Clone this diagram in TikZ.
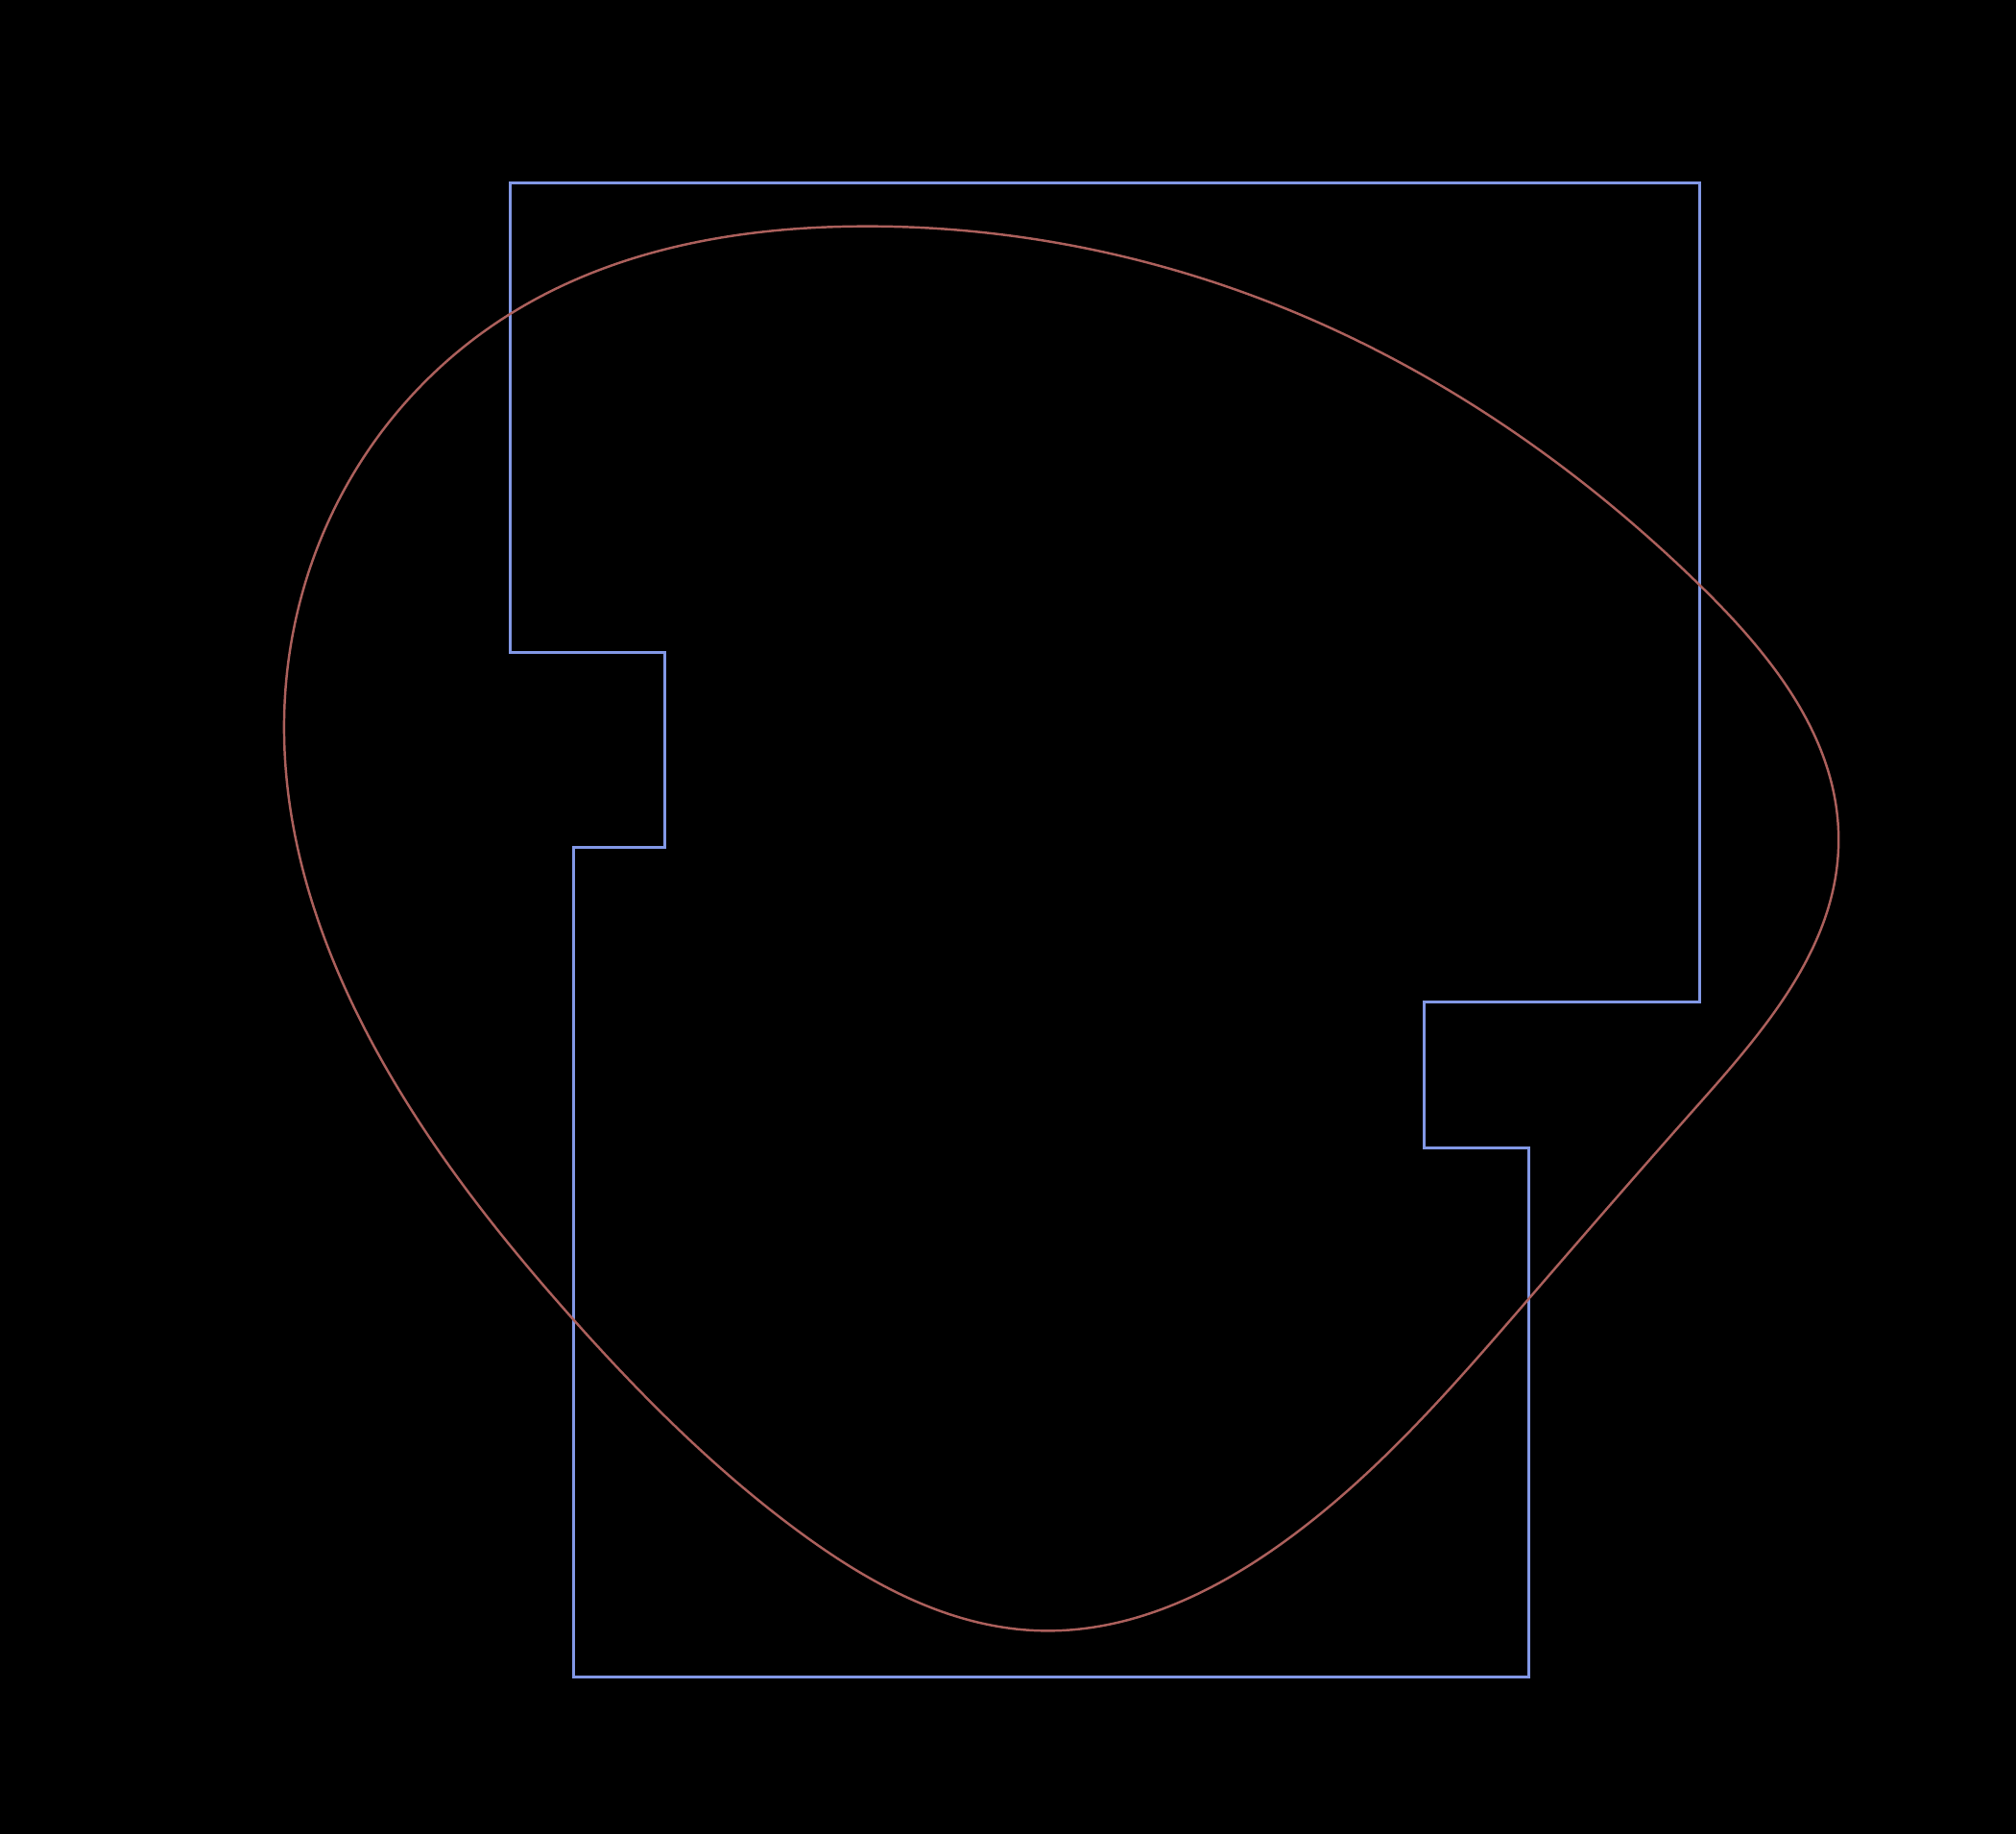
\documentclass[tikz,border=0pt]{standalone}
\usepackage{xcolor}
\usepackage{tikz}
\usetikzlibrary{hobby}
\definecolor{outlineblue}{RGB}{130,152,230}
\definecolor{blobred}{RGB}{172,96,92}

\begin{document}
\begin{tikzpicture}[
  x=0.013393cm, y=-0.013393cm,
  plan/.style={draw=outlineblue, line width=0.85pt, line join=miter},
  blob/.style={draw=blobred, line width=0.7pt}
]
% canvas
\fill[black] (0,0) rectangle (1568,1426);
\useasboundingbox (0,0) rectangle (1568,1426);

% stepped outline
\draw[plan] (397.2,141.9) -- (1322.3,141.9) -- (1322.3,779.5) -- (1108,779.5)
  -- (1108,893) -- (1189.4,893) -- (1189.4,1304.4) -- (445.8,1304.4)
  -- (445.8,658.6) -- (516.7,658.6) -- (516.7,507.7) -- (397.2,507.7) -- cycle;

% closed curve
\draw[blob] plot[closed hobby] coordinates {
  (668,176) (1000,240) (1322,455) (1430,655) (1320,860) (1189,1010)
  (1000,1198) (808,1268) (620,1190) (445,1025) (300,830) (221,560)
  (280,360) (397,244)};
\end{tikzpicture}
\end{document}
